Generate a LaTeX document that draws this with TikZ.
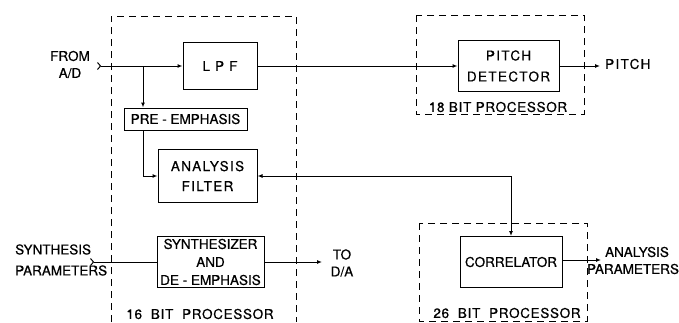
\documentclass[tikz,border=0pt]{standalone}
\usepackage{fontspec}
\setmainfont[FakeBold=0.6]{TeX Gyre Heros}
\newfontfamily\spaced[LetterSpace=10,FakeBold=0.6]{TeX Gyre Heros}
\newfontfamily\lspaced[LetterSpace=5,FakeBold=0.6]{TeX Gyre Heros}
\usetikzlibrary{arrows.meta}
\begin{document}
\begin{tikzpicture}[x=1pt,y=-1pt,
  every node/.style={font=\fontsize{13.5}{17}\selectfont, inner sep=0pt},
  blk/.style={draw, line width=1pt, align=center},
  proc/.style={draw, line width=0.9pt, dash pattern=on 7pt off 5pt},
  conn/.style={line width=1pt},
  arr/.style={conn, -{Latex[length=5pt,width=4pt]}},
  inarr/.style={conn, {Straight Barb[reversed,length=3pt,width=7pt]}-{Latex[length=5pt,width=4pt]}},
  inplain/.style={conn, {Straight Barb[reversed,length=3pt,width=7pt]}-},
  lbl/.style={align=center}]
\useasboundingbox (0,0) rectangle (679,322);
% processor boundaries
\draw[proc] (111,322) -- (111,16) -- (296,16) -- (296,322);
\draw[proc] (416,15) rectangle (584,114);
\draw[proc] (419,223) rectangle (587,321);
\node (p16) at (200,314) {\lspaced 16 \ BIT \ PROCESSOR};
\node (p18) at (498,107) {\lspaced 18 BIT PROCESSOR};
\node (p26) at (507,313) {\lspaced 26 \ BIT \ PROCESSOR};
% blocks
\node[blk, minimum width=74pt, minimum height=47pt] (lpf) at (220,66) {\spaced L P F};
\node[blk, minimum width=123pt, minimum height=22pt] (pre) at (185.5,119) {PRE - EMPHASIS};
\node[blk, minimum width=99pt, minimum height=53pt] (af) at (207.5,176) {\spaced ANALYSIS\\[3pt]\spaced FILTER};
\node[blk, minimum width=107pt, minimum height=51pt] (syn) at (210.5,262) {SYNTHESIZER\\[1pt]AND\\[1pt]DE - EMPHASIS};
\node[blk, minimum width=101pt, minimum height=51pt] (pd) at (508.5,66) {\spaced PITCH\\[4pt]\spaced DETECTOR};
\node[blk, minimum width=102pt, minimum height=51pt] (cor) at (511,262) {CORRELATOR};
% outside labels
\node[lbl] (froml) at (70,64.5) {FROM\\A/D};
\node[align=left, anchor=west] (synl) at (15,260) {SYNTHESIS\\[4pt]PARAMETERS};
\node[lbl] (tol) at (342,263) {TO\\D/A};
\node[anchor=west] (pitchl) at (605,64) {\spaced PITCH};
\node[lbl] (apl) at (633,260.5) {\hspace*{8pt}ANALYSIS\\PARAMETERS};
% coordinates
\coordinate (inA) at (97,66);
\coordinate (br) at (143,66);
\coordinate (inS) at (90,262);
\coordinate (toDA) at (322,262);
\coordinate (pitchout) at (600,66);
\coordinate (apout) at (601,260);
% connectors
\draw[inarr] (inA) -- (lpf.west);
\draw[arr] (br) -- (br |- pre.north);
\draw[arr] (br |- pre.south) |- (af.west);
\draw[arr] (lpf.east) -- (pd.west);
\draw[arr] (pd.east) -- (pitchout);
\draw[conn, {Latex[length=5pt,width=4pt]}-{Latex[length=5pt,width=4pt]}] (af.east) -| (cor.north);
\draw[arr] (cor.east |- apout) -- (apout);
\draw[inplain] (inS) -- (syn.west);
\draw[arr] (syn.east) -- (toDA);
\end{tikzpicture}
\end{document}
